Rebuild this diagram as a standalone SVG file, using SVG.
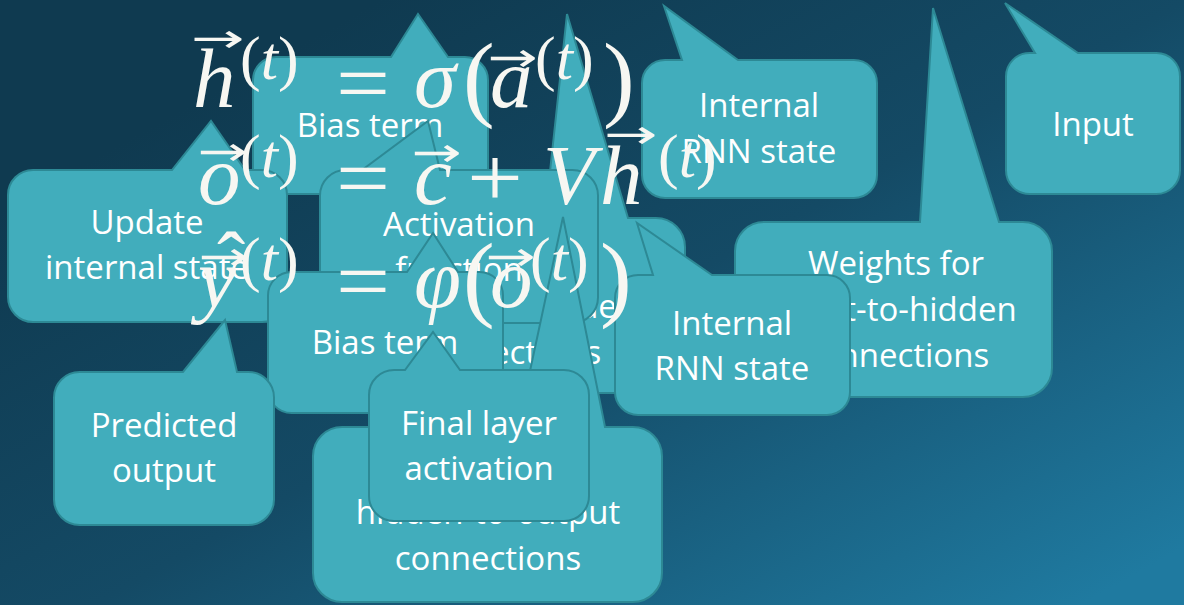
<svg xmlns="http://www.w3.org/2000/svg" width="1184" height="605" viewBox="0 0 1184 605">
<defs>
<linearGradient id="bg" gradientUnits="userSpaceOnUse" x1="380" y1="0" x2="800" y2="760">
<stop offset="0" stop-color="#0f3a50"/>
<stop offset="0.45" stop-color="#144a65"/>
<stop offset="1" stop-color="#1f7aa0"/>
</linearGradient>
<style>
.co{fill:#41adbc;stroke:#2d8995;stroke-width:2;stroke-linejoin:miter}
.lb{font-family:"Open Sans","Noto Sans",sans-serif;font-size:33px;fill:#ffffff;text-anchor:middle}
.m{font-family:"Liberation Serif","DejaVu Serif",serif;fill:#f7f7f2}
.mi{font-style:italic;font-size:85px}
.mu{font-size:85px}
.mp{font-size:95px}
.ms{font-size:62px}
.ar{font-family:"DejaVu Sans",sans-serif;font-size:40px;text-anchor:middle}
</style>
</defs>
<rect width="1184" height="605" fill="url(#bg)"/>

<g id="bias-term-1">
<path class="co" d="M276,57 H391 L418,14 L448,57 H465 A23,23 0 0 1 488,80 V171 A23,23 0 0 1 465,194 H276 A23,23 0 0 1 253,171 V80 A23,23 0 0 1 276,57 Z"/>
<text class="lb" x="370" y="137">Bias term</text>
</g>

<g id="weights-hidden-to-hidden">
<path class="co" d="M365,218 H545 L567,14 L628,218 H656 A29,29 0 0 1 685,247 V364 A29,29 0 0 1 656,393 H365 A29,29 0 0 1 336,364 V247 A29,29 0 0 1 365,218 Z"/>
<text class="lb" x="503" y="272">Weights for</text>
<text class="lb" x="503" y="318">hidden-to-hidden</text>
<text class="lb" x="508" y="364">connections</text>
</g>

<g id="activation-function">
<path class="co" d="M345.5,170 H362 L428,121 L440,170 H572.5 A25.5,25.5 0 0 1 598,195.5 V297.5 A25.5,25.5 0 0 1 572.5,323 H345.5 A25.5,25.5 0 0 1 320,297.5 V195.5 A25.5,25.5 0 0 1 345.5,170 Z"/>
<text class="lb" x="459" y="236">Activation</text>
<text class="lb" x="459" y="281">function</text>
</g>

<g id="update-internal-state">
<path class="co" d="M33,170 H172 L211,121 L245,170 H262 A25,25 0 0 1 287,195 V297 A25,25 0 0 1 262,322 H33 A25,25 0 0 1 8,297 V195 A25,25 0 0 1 33,170 Z"/>
<text class="lb" x="147" y="234">Update</text>
<text class="lb" x="147" y="279">internal state</text>
</g>

<g id="bias-term-2">
<path class="co" d="M291.5,272 H407 L433,233 L458,272 H479.5 A23.5,23.5 0 0 1 503,295.5 V389.5 A23.5,23.5 0 0 1 479.5,413 H291.5 A23.5,23.5 0 0 1 268,389.5 V295.5 A23.5,23.5 0 0 1 291.5,272 Z"/>
<text class="lb" x="385" y="354">Bias term</text>
</g>

<g id="predicted-output">
<path class="co" d="M79.5,372 H183 L225,320 L237,372 H248.5 A25.5,25.5 0 0 1 274,397.5 V499.5 A25.5,25.5 0 0 1 248.5,525 H79.5 A25.5,25.5 0 0 1 54,499.5 V397.5 A25.5,25.5 0 0 1 79.5,372 Z"/>
<text class="lb" x="164" y="437">Predicted</text>
<text class="lb" x="164" y="482">output</text>
</g>

<g id="weights-hidden-to-output">
<path class="co" d="M342,427 H518 L563,217 L605,427 H633 A29,29 0 0 1 662,456 V573 A29,29 0 0 1 633,602 H342 A29,29 0 0 1 313,573 V456 A29,29 0 0 1 342,427 Z"/>
<text class="lb" x="488" y="478">Weights for</text>
<text class="lb" x="488" y="524">hidden-to-output</text>
<text class="lb" x="488" y="570">connections</text>
</g>

<g id="final-layer-activation">
<path class="co" d="M394,370 H405 L433,332 L460,370 H564 A25,25 0 0 1 589,395 V496 A25,25 0 0 1 564,521 H394 A25,25 0 0 1 369,496 V395 A25,25 0 0 1 394,370 Z"/>
<text class="lb" x="479" y="435">Final layer</text>
<text class="lb" x="479" y="480">activation</text>
</g>

<g id="weights-input-to-hidden">
<path class="co" d="M764,222 H920 L933,8 L999,222 H1023 A29,29 0 0 1 1052,251 V368 A29,29 0 0 1 1023,397 H764 A29,29 0 0 1 735,368 V251 A29,29 0 0 1 764,222 Z"/>
<text class="lb" x="896" y="275">Weights for</text>
<text class="lb" x="896" y="321">input-to-hidden</text>
<text class="lb" x="896" y="367">connections</text>
</g>

<g id="internal-rnn-state-2">
<path class="co" d="M638,275 H653 L637,223 L712,275 H827 A23,23 0 0 1 850,298 V392 A23,23 0 0 1 827,415 H638 A23,23 0 0 1 615,392 V298 A23,23 0 0 1 638,275 Z"/>
<text class="lb" x="732" y="335">Internal</text>
<text class="lb" x="732" y="380">RNN state</text>
</g>

<g id="internal-rnn-state-1">
<path class="co" d="M665,60 H682 L664,6 L738,60 H854 A23,23 0 0 1 877,83 V175 A23,23 0 0 1 854,198 H665 A23,23 0 0 1 642,175 V83 A23,23 0 0 1 665,60 Z"/>
<text class="lb" x="759" y="117">Internal</text>
<text class="lb" x="759" y="163">RNN state</text>
</g>

<g id="input">
<path class="co" d="M1029.5,53 H1035 L1005,3 L1078,53 H1156.5 A23.5,23.5 0 0 1 1180,76.5 V170.5 A23.5,23.5 0 0 1 1156.5,194 H1029.5 A23.5,23.5 0 0 1 1006,170.5 V76.5 A23.5,23.5 0 0 1 1029.5,53 Z"/>
<text class="lb" x="1093" y="136">Input</text>
</g>

<g id="equations" class="m">
<text class="mi" x="193" y="107">h</text>
<text class="ar" transform="translate(218,52) scale(1.6,1)">→</text>
<text class="ms" x="240" y="79">(<tspan font-style="italic">t</tspan>)</text>
<text class="mu" x="336" y="112" textLength="54" lengthAdjust="spacingAndGlyphs">=</text>
<text class="mi" x="414" y="107">σ</text>
<text class="mp" x="463" y="109">(</text>
<text class="mi" x="490" y="107">a</text>
<text class="ar" transform="translate(513,71) scale(1.5,1)">→</text>
<text class="ms" x="535" y="79">(<tspan font-style="italic">t</tspan>)</text>
<text class="mp" x="603" y="109">)</text>

<text class="mi" x="198" y="204">o</text>
<text class="ar" transform="translate(223,165) scale(1.5,1)">→</text>
<text class="ms" x="240" y="177">(<tspan font-style="italic">t</tspan>)</text>
<text class="mu" x="336" y="207" textLength="54" lengthAdjust="spacingAndGlyphs">=</text>
<text class="mi" x="414" y="204">c</text>
<text class="ar" transform="translate(437,166) scale(1.5,1)">→</text>
<text class="mu" x="467" y="206" textLength="56" lengthAdjust="spacingAndGlyphs">+</text>
<text class="mi" x="543" y="204">V</text>
<text class="mi" x="600" y="204">h</text>
<text class="ar" transform="translate(631,148) scale(1.6,1)">→</text>
<text class="ms" x="658" y="177">(<tspan font-style="italic">t</tspan>)</text>

<text class="mi" x="198" y="307">y</text>
<text class="ar" transform="translate(224,270) scale(1.5,1)">→</text>
<text class="mu" x="217" y="290" font-size="60">ˆ</text>
<text class="ms" x="240" y="280">(<tspan font-style="italic">t</tspan>)</text>
<text class="mu" x="336" y="310" textLength="54" lengthAdjust="spacingAndGlyphs">=</text>
<text class="mi" x="414" y="307">φ</text>
<text class="mp" x="463" y="309">(</text>
<text class="mi" x="490" y="307">o</text>
<text class="ar" transform="translate(511,270) scale(1.5,1)">→</text>
<text class="ms" x="530" y="280">(<tspan font-style="italic">t</tspan>)</text>
<text class="mp" x="600" y="309">)</text>
</g>
</svg>
